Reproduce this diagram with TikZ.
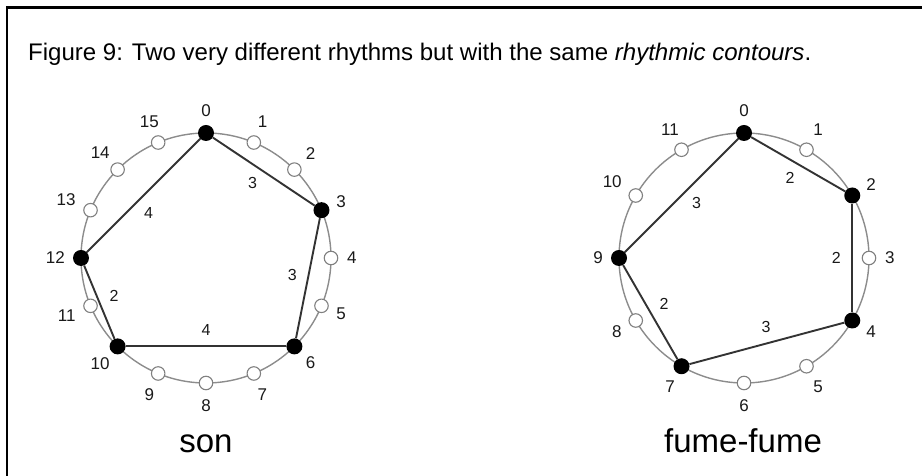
\documentclass[tikz,border=0pt]{standalone}
\usepackage{fontspec}
\setmainfont{Liberation Sans}
\usetikzlibrary{calc}

\begin{document}
\begin{tikzpicture}[x=1pt,y=1pt,
  wheel/.style={draw=black!45,line width=1.4pt},
  onset/.style={circle,fill=black,inner sep=0pt,minimum size=16pt},
  rest/.style={circle,draw=black!50,fill=white,line width=1.1pt,inner sep=0pt,minimum size=13.5pt},
  chord/.style={draw=black!80,line width=1.9pt},
  num/.style={inner sep=0pt,text=black!90,font=\fontsize{17}{19}\selectfont},
  wt/.style={inner sep=0pt,text=black!90,font=\fontsize{16}{18}\selectfont},
  rhythmname/.style={anchor=base,inner sep=0pt,font=\fontsize{33}{37}\selectfont}]
  \useasboundingbox (0,0) rectangle (922,476);
  \draw[line width=2.6pt] (7,0) -- (7,468.5) -- (923,468.5);
  \node[anchor=base west,inner sep=0pt,font=\fontsize{24}{26}\selectfont] (cap) at (28,415)
    {\resizebox{783pt}{\height}{Figure 9: Two very different rhythms but with the same \textit{rhythmic contours}.}};
  % son: 16 pulses
  \begin{scope}[shift={(206,218)}]
    \draw[wheel] (0,0) circle (125);
    \foreach \k [evaluate=\k as \a using 90-22.5*\k, evaluate=\k as \b using 270-22.5*\k] in {0,...,15}
      \node[num,anchor=\b] (sn\k) at (\a:141) {\k};
    \foreach \k in {1,2,4,5,7,8,9,11,13,14,15}
      \node[rest] (s\k) at ({90-22.5*\k}:125) {};
    \foreach \k in {0,3,6,10,12}
      \node[onset] (s\k) at ({90-22.5*\k}:125) {};
    \foreach \a/\b/\w/\p in {0/3/3/.48,3/6/3/.5,6/10/4/.5,10/12/2/.5,12/0/4/.45} {
      \draw[chord] (s\a) -- (s\b);
      \node[wt] (sw\a) at ($(s\a)!\p!(s\b)!16pt!-90:(s\b)$) {\w};
    }
    \node[rhythmname] (son) at (0,-195) {son};
  \end{scope}
  % fume-fume: 12 pulses
  \begin{scope}[shift={(744,218)}]
    \draw[wheel] (0,0) circle (125);
    \foreach \k [evaluate=\k as \a using 90-30*\k, evaluate=\k as \b using 270-30*\k] in {0,...,11}
      \node[num,anchor=\b] (fn\k) at (\a:141) {\k};
    \foreach \k in {1,3,5,6,8,10,11}
      \node[rest] (f\k) at ({90-30*\k}:125) {};
    \foreach \k in {0,2,4,7,9}
      \node[onset] (f\k) at ({90-30*\k}:125) {};
    \foreach \a/\b/\w/\p in {0/2/2/.5,2/4/2/.5,4/7/3/.48,7/9/2/.5,9/0/3/.53} {
      \draw[chord] (f\a) -- (f\b);
      \node[wt] (fw\a) at ($(f\a)!\p!(f\b)!16pt!-90:(f\b)$) {\w};
    }
    \node[rhythmname] (fume) at (-1,-195) {fume-fume};
  \end{scope}
\end{tikzpicture}
\end{document}
